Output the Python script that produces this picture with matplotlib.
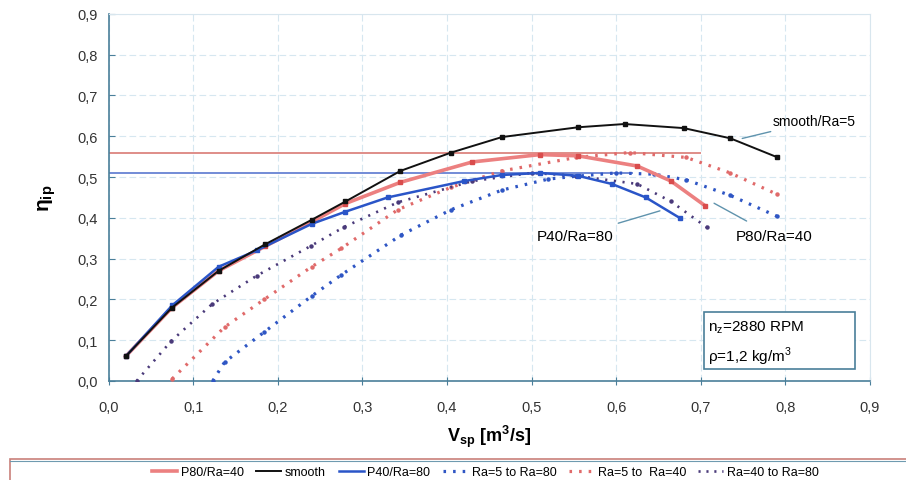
import matplotlib.pyplot as plt
from matplotlib.patches import Rectangle
from matplotlib.lines import Line2D

plt.rcParams['font.family'] = ['Liberation Sans', 'DejaVu Sans']

# data
smooth_x = [0.02, 0.075, 0.13, 0.185, 0.24, 0.28, 0.345, 0.405, 0.465, 0.555, 0.61, 0.68, 0.735, 0.79]
smooth_y = [0.06, 0.18, 0.27, 0.335, 0.395, 0.44, 0.515, 0.56, 0.598, 0.622, 0.63, 0.62, 0.595, 0.549]

p80_x = [0.02, 0.075, 0.13, 0.185, 0.24, 0.28, 0.345, 0.43, 0.51, 0.555, 0.625, 0.665, 0.705]
p80_y = [0.06, 0.18, 0.27, 0.33, 0.39, 0.435, 0.487, 0.537, 0.555, 0.552, 0.527, 0.49, 0.43]

p40_x = [0.02, 0.075, 0.13, 0.175, 0.24, 0.28, 0.33, 0.42, 0.465, 0.51, 0.555, 0.595, 0.635, 0.675]
p40_y = [0.06, 0.185, 0.28, 0.32, 0.385, 0.415, 0.45, 0.49, 0.505, 0.51, 0.503, 0.483, 0.45, 0.40]

ra5_80_x = [0.123, 0.137, 0.184, 0.24, 0.275, 0.346, 0.405, 0.465, 0.52, 0.553, 0.6, 0.645, 0.683, 0.735, 0.79]
ra5_80_y = [0.0, 0.046, 0.12, 0.208, 0.26, 0.358, 0.42, 0.468, 0.495, 0.502, 0.51, 0.507, 0.493, 0.455, 0.404]

ra5_40_x = [0.075, 0.137, 0.184, 0.24, 0.275, 0.342, 0.405, 0.465, 0.553, 0.616, 0.683, 0.735, 0.79]
ra5_40_y = [0.005, 0.132, 0.2, 0.28, 0.325, 0.42, 0.475, 0.515, 0.548, 0.56, 0.548, 0.51, 0.458]

ra40_80_x = [0.033, 0.074, 0.122, 0.175, 0.239, 0.278, 0.342, 0.43, 0.5, 0.553, 0.625, 0.665, 0.707]
ra40_80_y = [0.0, 0.098, 0.188, 0.258, 0.331, 0.377, 0.438, 0.49, 0.51, 0.503, 0.483, 0.44, 0.377]

max_p80 = 0.56
max_p40 = 0.51

ticks_x = [0.0, 0.1, 0.2, 0.3, 0.4, 0.5, 0.6, 0.7, 0.8, 0.9]
ticks_y = [0.0, 0.1, 0.2, 0.3, 0.4, 0.5, 0.6, 0.7, 0.8, 0.9]

fig = plt.figure(figsize=(9.06, 4.81), dpi=100)
ax = fig.add_axes([0.120, 0.206, 0.840, 0.763])

# horizontal max lines
ax.hlines(max_p80, 0, 0.70, color='#d97a74', lw=1.2, zorder=2)
ax.hlines(max_p40, 0, 0.62, color='#5a78d0', lw=1.2, zorder=2)

dot = (0, (0.8, 2.2))
ax.plot(ra5_80_x, ra5_80_y, color='#2f56c4', lw=2.3, ls=dot,
        marker='o', ms=2.2, zorder=3)
ax.plot(ra5_40_x, ra5_40_y, color='#e06a6a', lw=2.3, ls=dot,
        marker='o', ms=2.2, zorder=3)
ax.plot(ra40_80_x, ra40_80_y, color='#4a3a7a', lw=1.9, ls=(0, (0.8, 2.5)),
        marker='o', ms=2.2, zorder=3)

ax.plot(p80_x, p80_y, color='#ec8080', lw=2.6, marker='s', ms=2.2,
        mfc='#d94c4c', mec='#d94c4c', zorder=4)
ax.plot(smooth_x, smooth_y, color='#111111', lw=1.4, marker='s', ms=2.2, zorder=5)
ax.plot(p40_x, p40_y, color='#2a55c8', lw=1.8, marker='s', ms=2.2, zorder=4)

# annotations
ax.annotate('smooth/Ra=5', xy=(0.746, 0.593), xytext=(0.785, 0.637),
            fontsize=10, va='center', ha='left',
            arrowprops=dict(arrowstyle='-', color='#5f93ad', lw=1))
ax.annotate('P40/Ra=80', xy=(0.655, 0.419), xytext=(0.551, 0.355),
            fontsize=11, va='center', ha='center',
            arrowprops=dict(arrowstyle='-', color='#5f93ad', lw=1, shrinkA=8))
ax.annotate('P80/Ra=40', xy=(0.713, 0.439), xytext=(0.787, 0.355),
            fontsize=11, va='center', ha='center',
            arrowprops=dict(arrowstyle='-', color='#5f93ad', lw=1, shrinkA=8))

# info box
ax.add_patch(Rectangle((0.7045, 0.029), 0.1775, 0.140, fc='white',
                       ec='#4a7f9a', lw=1.2, zorder=6))
ax.text(0.709, 0.133, 'n$_{\\mathregular{z}}$=2880 RPM', fontsize=11,
        va='center', ha='left', zorder=7)
ax.text(0.709, 0.062, '\u03c1=1,2 kg/m$^{\\mathregular{3}}$', fontsize=11,
        va='center', ha='left', zorder=7)

ax.set_xlim(0, 0.9)
ax.set_ylim(0, 0.9)
ax.set_xticks(ticks_x)
ax.set_yticks(ticks_y)
ax.set_xticklabels([f'{t:.1f}'.replace('.', ',') for t in ticks_x], fontsize=10.5, color='#333333')
ax.set_yticklabels([f'{t:.1f}'.replace('.', ',') for t in ticks_y], fontsize=10.5, color='#333333')
ax.tick_params(direction='in', length=4, color='#4a7f9a', pad=8)
ax.tick_params(axis='x', direction='inout', length=6, pad=11)
ax.grid(True, color='#d6e7f0', ls=(0, (6, 3)), lw=0.8)
ax.set_axisbelow(True)
for s in ['left', 'bottom']:
    ax.spines[s].set_color('#4a7f9a')
    ax.spines[s].set_linewidth(1.2)
for s in ['top', 'right']:
    ax.spines[s].set_color('#d8e6ee')

ax.set_xlabel('V$_{\\mathregular{sp}}$ [m$^{\\mathregular{3}}$/s]', fontsize=13,
              fontweight='bold', labelpad=6)
ax.set_ylabel('\u03b7$_{\\mathregular{ip}}$', fontsize=15, fontweight='bold', labelpad=14)

# legend frame across the bottom
fig.patches.append(Rectangle((10 / 906, -0.02), 1.0, 21 / 481 + 0.02,
                             transform=fig.transFigure, fill=False,
                             ec='#c9807a', lw=1.2))
fig.add_artist(Line2D([10 / 906, 1.0], [19.5 / 481, 19.5 / 481],
                      transform=fig.transFigure, color='#6f9bb0', lw=0.8))
handles = [
    Line2D([], [], color='#ec8080', lw=2.6),
    Line2D([], [], color='#111111', lw=1.4),
    Line2D([], [], color='#2a55c8', lw=1.8),
    Line2D([], [], color='#2f56c4', lw=2.3, ls=dot),
    Line2D([], [], color='#e06a6a', lw=2.3, ls=dot),
    Line2D([], [], color='#4a3a7a', lw=1.9, ls=dot),
]
labels = ['P80/Ra=40', 'smooth', 'P40/Ra=80', 'Ra=5 to Ra=80',
          'Ra=5 to  Ra=40', 'Ra=40 to Ra=80']
fig.legend(handles, labels, loc='center',
           bbox_to_anchor=(0.536, 0.0165), ncol=6, frameon=False,
           handlelength=2.0, handletextpad=0.3, columnspacing=1.0,
           borderpad=0, prop={'family': ['Liberation Sans Narrow', 'Liberation Sans'], 'size': 9})

fig.savefig('out.png', dpi=100)
